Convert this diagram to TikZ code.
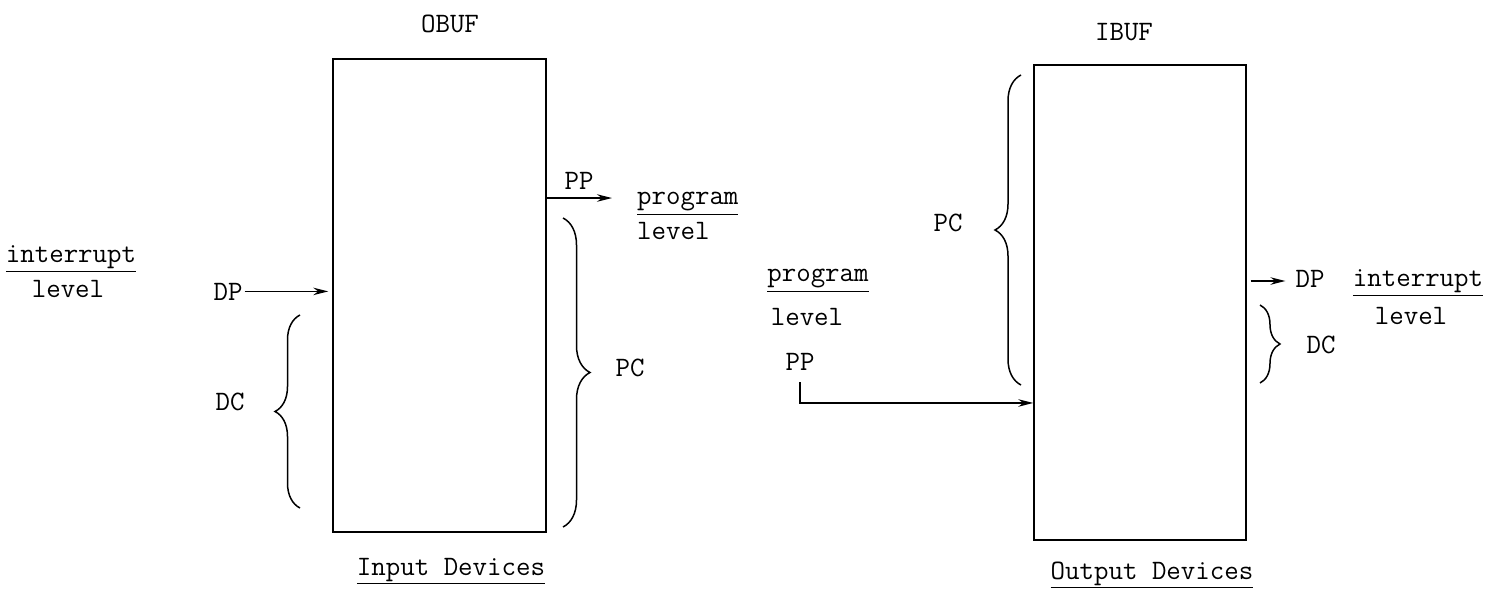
\documentclass[tikz,border=0pt]{standalone}
\usepackage{fontspec}
\usetikzlibrary{arrows.meta,decorations.pathreplacing}

\tikzset{
  buf/.style={draw, line width=0.03cm, rectangle, inner sep=0pt},
  lbl/.style={inner sep=1pt, font=\ttfamily\fontsize{16}{18}\selectfont},
  sig/.style={line width=0.03cm, -{Stealth[length=0.3cm,width=0.15cm]}},
  curly/.style={line width=0.03cm, decorate, decoration={brace, amplitude=#1}},
}

\begin{document}
\begin{tikzpicture}[x=0.02cm, y=-0.02cm]
                \useasboundingbox (0,0) rectangle (1498,591);
                
                % Drawing buffer OBUF
                \node [buf, minimum width=4.26cm, minimum height=9.46cm] (obuf) at (439.5,295.5) {};%
                \node [lbl, anchor=base] (obuftxt) at (450,33) {OBUF};%
                \node [lbl, anchor=base] (indev) at (451,575) {\underline{Input Devices}};%
                
                % Marking interrupt level (left)
                \node [lbl, anchor=base] (intl) at (71,263) {\underline{interrupt}};%
                \node [lbl, anchor=base] (levl) at (68,297) {level};%
                
                % Drawing DP into OBUF
                \node [lbl, anchor=base] (dpin) at (228,300) {DP};%
                \draw [sig, shorten >=0.08cm] (dpin) -- (dpin -| obuf.west);%
                
                % Drawing brace DC
                \draw [curly=0.5cm] (300,508) -- (300,315);%
                \node [lbl, anchor=base] (dcin) at (230,410) {DC};%
                
                % Drawing PP out of OBUF
                \node [lbl, anchor=base west] (prog1) at (635,205) {\underline{program}};%
                \node [lbl, anchor=base west] (lev1) at (635,240) {level};%
                \node [lbl, anchor=base] (ppout) at (579,190) {PP};%
                \coordinate (ppsrc) at ([yshift=1.95cm]obuf.east);%
                \draw [sig, shorten >=0.46cm] (ppsrc) -- (ppsrc -| prog1.west);%
                
                % Drawing brace PC
                \draw [curly=0.54cm] (563,218) -- (563,527);%
                \node [lbl, anchor=base] (pcout) at (630,377) {PC};%
                
                % Drawing buffer IBUF
                \node [buf, minimum width=4.24cm, minimum height=9.5cm] (ibuf) at (1140,302.5) {};%
                \node [lbl, anchor=base] (ibuftxt) at (1124,41) {IBUF};%
                \node [lbl, anchor=base] (outdev) at (1152,579) {\underline{Output Devices}};%
                
                % Drawing PP into IBUF
                \node [lbl, anchor=base] (prog2) at (818,282) {\underline{program}};%
                \node [lbl, anchor=base] (lev2) at (807,325) {level};%
                \node [lbl, anchor=base] (ppin) at (800,370) {PP};%
                \draw [sig, shorten <=0.2cm] (ppin.south) |- ([yshift=-2.01cm]ibuf.west);%
                
                % Drawing brace PC (left of IBUF)
                \draw [curly=0.52cm] (1021,385) -- (1021,75);%
                \node [lbl, anchor=base] (pcin) at (948,232) {PC};%
                
                % Drawing DP out of IBUF
                \node [lbl, anchor=base] (dpout) at (1310,288) {DP};%
                \coordinate (dpsrc) at ([yshift=0.43cm]ibuf.east);%
                \draw [sig, shorten <=0.08cm, shorten >=0.16cm] (dpsrc) -- (dpsrc -| dpout.west);%
                \node [lbl, anchor=base] (intr) at (1418,287) {\underline{interrupt}};%
                \node [lbl, anchor=base] (levr) at (1411,324) {level};%
                
                % Drawing brace DC (right of IBUF)
                \draw [curly=0.4cm] (1260,305) -- (1260,383);%
                \node [lbl, anchor=base] (dcout) at (1321,354) {DC};%
\end{tikzpicture}
\end{document}
